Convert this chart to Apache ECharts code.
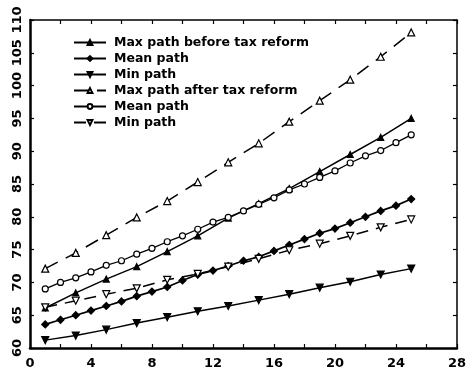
<!DOCTYPE html>
<html>
<head>
<meta charset="utf-8">
<script src="https://cdn.jsdelivr.net/npm/echarts@6/dist/echarts.min.js"></script>
<style>
  html, body { margin: 0; padding: 0; background: #fff; }
  #chart { width: 469px; height: 375px; }
</style>
</head>
<body>
<div id="chart"></div>
<script>
// Periods (years) at which each path was recorded
const periodsOdd = [1, 3, 5, 7, 9, 11, 13, 15, 17, 19, 21, 23, 25];
const periodsAll = [1, 2, 3, 4, 5, 6, 7, 8, 9, 10, 11, 12, 13, 14, 15, 16, 17, 18, 19, 20, 21, 22, 23, 24, 25];

// Paths before the tax reform
const maxBefore  = [66.1, 68.4, 70.5, 72.4, 74.7, 77.1, 79.8, 82.0, 84.3, 86.9, 89.5, 92.1, 95.0];
const meanBefore = [63.6, 64.3, 65.0, 65.7, 66.4, 67.1, 67.9, 68.6, 69.3, 70.3, 71.2, 71.8, 72.5,
                    73.3, 73.9, 74.8, 75.7, 76.6, 77.5, 78.2, 79.1, 80.0, 80.9, 81.7, 82.7];
const minBefore  = [61.2, 61.9, 62.8, 63.8, 64.7, 65.6, 66.4, 67.3, 68.2, 69.2, 70.1, 71.2, 72.1];

// Paths after the tax reform
const maxAfter  = [72.1, 74.5, 77.2, 79.9, 82.4, 85.3, 88.3, 91.2, 94.5, 97.7, 100.9, 104.4, 108.1];
const meanAfter = [69.0, 70.0, 70.7, 71.6, 72.6, 73.3, 74.3, 75.2, 76.2, 77.1, 78.1, 79.2, 79.9,
                   80.9, 81.9, 82.9, 84.1, 85.0, 86.0, 87.0, 88.2, 89.3, 90.1, 91.3, 92.5];
const minAfter  = [66.2, 67.2, 68.2, 69.1, 70.4, 71.3, 72.4, 73.6, 74.9, 75.9, 77.1, 78.4, 79.6];

const seriesNames = [
  'Max path before tax reform', 'Mean path', 'Min path ',
  'Max path after tax reform', 'Mean path ', 'Min path'
];

const xTickLabels = [0, 4, 8, 12, 16, 20, 24, 28];
const yTickLabels = [60, 65, 70, 75, 80, 85, 90, 95, 100, 105, 110];

const pair = (xs, ys) => xs.map((x, i) => [x, ys[i]]);

const FONT = 'DejaVu Sans';
const downTri = 'path://M0,0 L10,0 L5,9 Z';

function lineSeries(name, data, opts) {
  return Object.assign({
    name: name,
    type: 'line',
    data: data,
    symbolSize: 6,
    showSymbol: true,
    animation: false,
    z: 3,
    lineStyle: { color: '#000', width: 1.5, type: 'solid' },
    itemStyle: { color: '#000', borderColor: '#000', borderWidth: 1.2 }
  }, opts);
}

const chart = echarts.init(document.getElementById('chart'), null, { renderer: 'canvas' });

chart.setOption({
  backgroundColor: '#fff',
  animation: false,
  grid: { left: 30, right: 10, top: 20, bottom: 27, show: false },
  legend: {
    orient: 'vertical',
    left: 68,
    top: 31,
    itemWidth: 32,
    itemHeight: 6,
    itemGap: 3,
    data: seriesNames,
    textStyle: {
      fontFamily: FONT, fontWeight: 'bold', fontSize: 12.5, color: '#000',
      padding: [0, 0, 0, 3]
    },
    selectedMode: false
  },
  xAxis: [{
    type: 'value',
    min: 0, max: 28, interval: 4,
    axisLine: { show: true, onZero: false, lineStyle: { color: '#000', width: 2.5 } },
    axisTick: { show: true, inside: true, length: 4, lineStyle: { color: '#000', width: 1.2 } },
    minorTick: { show: true, splitNumber: 2, length: 4, lineStyle: { color: '#000', width: 1.2 } },
    splitLine: { show: false },
    axisLabel: {
      margin: 9, fontFamily: FONT, fontWeight: 'bold', fontSize: 13, color: '#000',
      formatter: v => (xTickLabels.indexOf(v) >= 0 ? String(v) : '')
    }
  }, {
    type: 'value', position: 'top',
    min: 0, max: 28, interval: 2,
    axisLine: { show: true, onZero: false, lineStyle: { color: '#000', width: 1.5 } },
    axisTick: { show: true, inside: true, length: 4, lineStyle: { color: '#000', width: 1.2 } },
    splitLine: { show: false },
    axisLabel: { show: false }
  }],
  yAxis: [{
    type: 'value',
    min: 60, max: 110, interval: 5,
    axisLine: { show: true, onZero: false, lineStyle: { color: '#000', width: 2.5 } },
    axisTick: { show: true, inside: true, length: 4, lineStyle: { color: '#000', width: 1.2 } },
    splitLine: { show: false },
    axisLabel: {
      rotate: 90, margin: 6, fontFamily: FONT, fontWeight: 'bold', fontSize: 13, color: '#000',
      formatter: v => (yTickLabels.indexOf(v) >= 0 ? String(v) : '')
    }
  }, {
    type: 'value', position: 'right',
    min: 60, max: 110, interval: 5,
    axisLine: { show: true, onZero: false, lineStyle: { color: '#000', width: 1.5 } },
    axisTick: { show: true, inside: true, length: 4, lineStyle: { color: '#000', width: 1.2 } },
    splitLine: { show: false },
    axisLabel: { show: false }
  }],
  series: [
    lineSeries(seriesNames[0], pair(periodsOdd, maxBefore), {
      symbol: 'triangle', symbolSize: 6
    }),
    lineSeries(seriesNames[1], pair(periodsAll, meanBefore), {
      symbol: 'diamond', symbolSize: 7,
      lineStyle: { color: '#000', width: 1.7, type: 'solid' }
    }),
    lineSeries(seriesNames[2], pair(periodsOdd, minBefore), {
      symbol: downTri, symbolSize: 7
    }),
    lineSeries(seriesNames[3], pair(periodsOdd, maxAfter), {
      symbol: 'triangle', symbolSize: 7,
      lineStyle: { color: '#000', width: 1.5, type: [14, 9] },
      itemStyle: { color: '#fff', borderColor: '#000', borderWidth: 1.2 }
    }),
    lineSeries(seriesNames[4], pair(periodsAll, meanAfter), {
      symbol: 'circle', symbolSize: 6,
      lineStyle: { color: '#000', width: 1.3, type: 'solid' },
      itemStyle: { color: '#fff', borderColor: '#000', borderWidth: 1.2 }
    }),
    lineSeries(seriesNames[5], pair(periodsOdd, minAfter), {
      symbol: downTri, symbolSize: 7,
      lineStyle: { color: '#000', width: 1.5, type: [12, 8] },
      itemStyle: { color: '#fff', borderColor: '#000', borderWidth: 1.2 }
    })
  ]
});
</script>
</body>
</html>
